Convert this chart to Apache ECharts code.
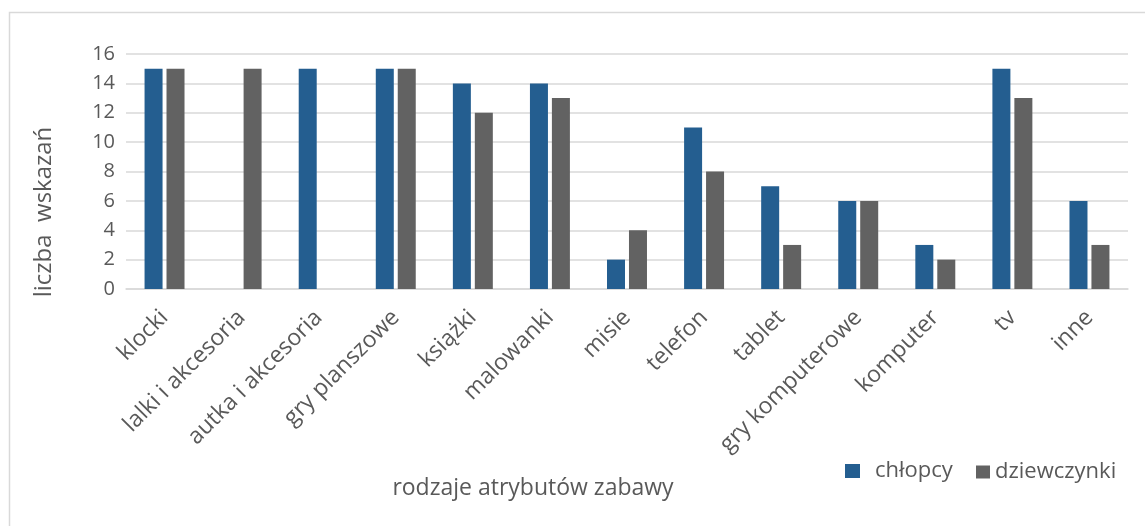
<!DOCTYPE html>
<html>
<head>
<meta charset="utf-8">
<script src="https://cdn.jsdelivr.net/npm/echarts@6/dist/echarts.min.js"></script>
<style>
  html, body { margin: 0; padding: 0; background: #ffffff; }
  #chart { width: 1145px; height: 526px; }
</style>
</head>
<body>
<div id="chart"></div>
<script>
// Rodzaje atrybutów zabawy – liczba wskazań wg płci
const categories = [
  'klocki', 'lalki i akcesoria', 'autka i akcesoria', 'gry planszowe', 'książki',
  'malowanki', 'misie', 'telefon', 'tablet', 'gry komputerowe', 'komputer', 'tv', 'inne'
];
const chlopcy     = [15, 0, 15, 15, 14, 14, 2, 11, 7, 6, 3, 15, 6];
const dziewczynki = [15, 15, 0, 15, 12, 13, 4, 8, 3, 6, 2, 13, 3];
const yTicks = { min: 0, max: 16, step: 2 };

const FONT = '"Open Sans", sans-serif';
const TEXT = '#595959';
const GRID = '#d9d9d9';
const BLUE = '#245e90';
const GREY = '#626262';

const chart = echarts.init(document.getElementById('chart'), null, { renderer: 'canvas' });

chart.setOption({
  animation: false,
  backgroundColor: '#ffffff',
  textStyle: { fontFamily: FONT, color: TEXT },
  grid: { left: 126, right: 17, top: 54, bottom: 237, containLabel: false },
  legend: [
    {
      data: ['chłopcy'],
      left: 840, top: 455,
      icon: 'rect', itemWidth: 15, itemHeight: 14,
      textStyle: { fontFamily: FONT, fontSize: 22, color: TEXT, padding: [0, 0, 0, 10] }
    },
    {
      data: ['dziewczynki'],
      left: 971, top: 456,
      icon: 'rect', itemWidth: 14, itemHeight: 13,
      textStyle: { fontFamily: FONT, fontSize: 22, color: TEXT, padding: [0, 0, 0, 0] }
    }
  ],
  xAxis: {
    type: 'category',
    data: categories,
    axisLine: { show: true, lineStyle: { color: GRID, width: 1.5 } },
    axisTick: { show: false },
    axisLabel: {
      interval: 0, rotate: 45, margin: 25,
      fontFamily: FONT, fontSize: 23, color: TEXT
    }
  },
  yAxis: {
    type: 'value',
    min: yTicks.min, max: yTicks.max, interval: yTicks.step,
    axisLine: { show: false },
    axisTick: { show: false },
    axisLabel: { margin: 11, fontFamily: FONT, fontSize: 20, color: TEXT },
    splitLine: { show: true, lineStyle: { color: GRID, width: 1.5 } }
  },
  series: [
    {
      name: 'chłopcy', type: 'bar', data: chlopcy,
      barWidth: 18, barGap: '22%',
      itemStyle: { color: BLUE }
    },
    {
      name: 'dziewczynki', type: 'bar', data: dziewczynki,
      barWidth: 18, barGap: '22%',
      itemStyle: { color: GREY }
    }
  ],
  graphic: [
    {
      type: 'rect', silent: true,
      shape: { x: 9.5, y: 12.5, width: 1200, height: 600 },
      style: { fill: 'none', stroke: GRID, lineWidth: 1.5 }
    },
    {
      type: 'text', silent: true,
      x: 44, y: 212, rotation: Math.PI / 2,
      style: {
        text: 'liczba  wskazań', fontFamily: FONT, fontSize: 24, fill: TEXT,
        align: 'center', verticalAlign: 'middle'
      }
    },
    {
      type: 'text', silent: true,
      x: 533, y: 488,
      style: {
        text: 'rodzaje atrybutów zabawy', fontFamily: FONT, fontSize: 23, fill: TEXT,
        align: 'center', verticalAlign: 'middle'
      }
    }
  ]
});
</script>
</body>
</html>
